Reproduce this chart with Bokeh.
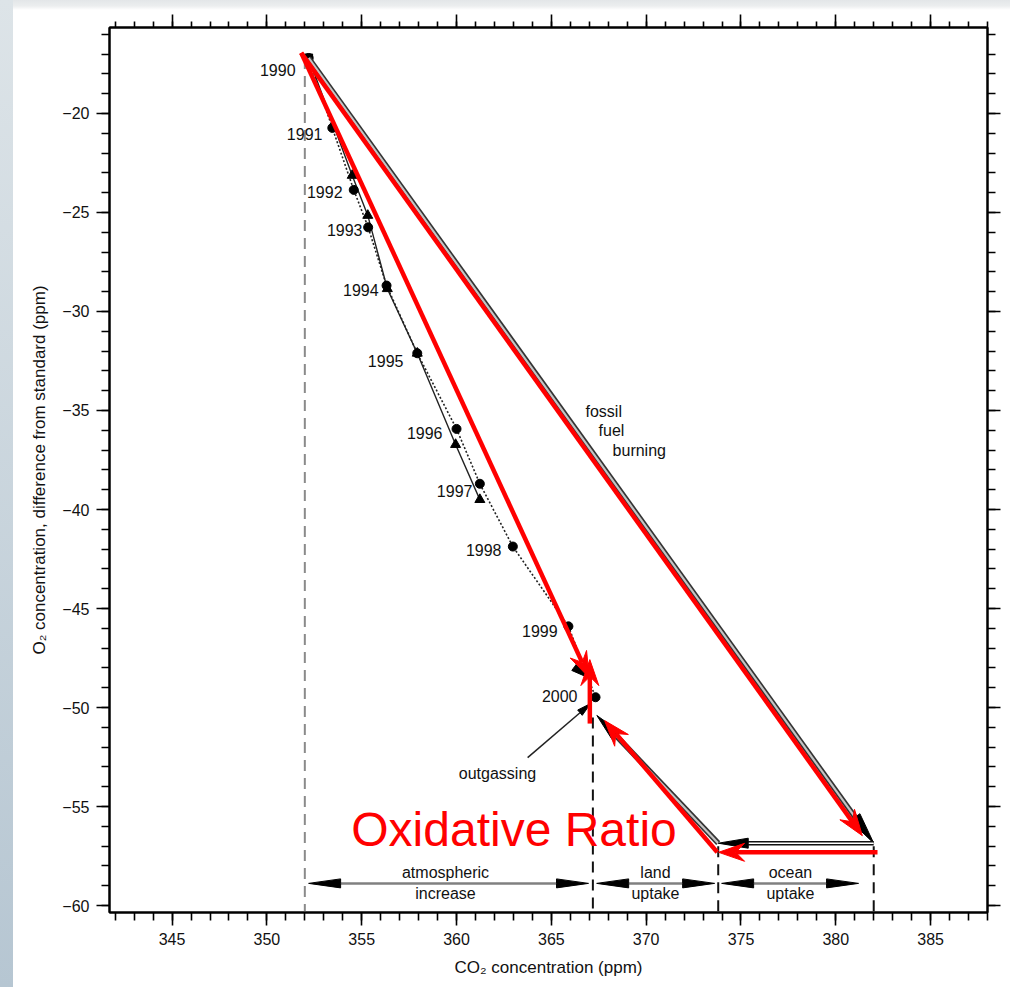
import math
from bokeh.plotting import figure
from bokeh.models import (LinearAxis, Range1d, SingleIntervalTicker,
                          CustomJSTickFormatter, ColumnDataSource)
from bokeh.embed import file_html
from bokeh.resources import INLINE
from bokeh.core.properties import value

FONT = "Liberation Sans"

# ---------------- data ----------------
x_range_ppm = [341.7, 388.0]
y_range_ppm = [-60.35, -15.66]

years = ["1990", "1991", "1992", "1993", "1994", "1995", "1996", "1997", "1998", "1999", "2000"]
obs_co2 = [352.2, 353.45, 354.58, 355.34, 356.31, 357.93, 360.0, 361.23, 362.97, 365.9, 367.33]
obs_o2 = [-17.2, -20.73, -23.86, -25.75, -28.69, -32.11, -35.93, -38.7, -41.87, -45.9, -49.48]
label_co2 = [351.51, 352.93, 353.99, 355.04, 355.89, 357.2, 359.26, 360.84, 362.37, 365.33, 366.38]
label_o2 = [-17.83, -21.06, -23.99, -25.91, -28.94, -32.48, -36.16, -39.09, -42.02, -46.11, -49.44]

tri_co2 = [352.2, 354.5, 355.32, 356.35, 357.93, 359.95, 361.23]
tri_o2 = [-17.2, -23.13, -25.15, -28.85, -32.11, -36.72, -39.5]

# budget boundaries (vertical dashed lines)
boundary_co2 = [352.0, 367.19, 373.8, 382.0]
boundary_top_o2 = [-17.2, -50.5, -57.0, -57.0]

# original-figure budget arrows: (x0, y0, x1, y1)
fossil_arrow = [352.2, -17.2, 382.0, -56.85]
ocean_arrow = [382.0, -56.85, 373.8, -56.85]
land_arrow = [373.8, -56.85, 367.4, -50.4]
atm_head = [366.27, -47.98, 367.07, -48.54]
outgas_arrow = [363.75, -52.53, 367.07, -49.8]

fossil_words = ["fossil", "fuel", "burning"]
fossil_words_x = [366.8, 367.49, 368.23]
fossil_words_y = [-35.05, -36.01, -37.02]
outgas_text = ["outgassing"]
outgas_text_x = [362.16]
outgas_text_y = [-53.33]

span_top = ["atmospheric", "land", "ocean"]
span_bottom = ["increase", "uptake", "uptake"]
span_text_x = [359.42, 370.49, 377.61]
span_top_y = -58.33
span_bottom_y = -59.37
span_start = [352.2, 367.39, 373.98]
span_end = [366.96, 373.61, 381.2]
span_y = -58.88

# red overlay arrows: (x0, y0, x1, y1)
red_arrows = [
    [351.81, -16.94, 367.0, -48.5],
    [351.81, -16.94, 381.4, -56.47],
    [382.2, -57.31, 373.82, -57.31],
    [373.75, -57.31, 367.81, -50.66],
    [367.03, -50.81, 367.03, -47.58],
]
red_title = ["Oxidative Ratio"]
red_title_x = [354.45]
red_title_y = [-56.17]

# ---------------- geometry helpers ----------------
FRAME_W, FRAME_H = 878, 885
SX = FRAME_W / (x_range_ppm[1] - x_range_ppm[0])
SY = FRAME_H / (y_range_ppm[1] - y_range_ppm[0])


def head(x0, y0, x1, y1, L, W, notch=0.0):
    dx = (x1 - x0) * SX
    dy = (y1 - y0) * SY
    n = math.hypot(dx, dy)
    ux, uy = dx / n, dy / n
    px_, py_ = -uy, ux

    def pt(a, b):
        return x1 + (-a * ux + b * px_) / SX, y1 + (-a * uy + b * py_) / SY

    l = pt(L, W / 2)
    r = pt(L, -W / 2)
    m = pt(L - notch, 0)
    return [x1, l[0], m[0], r[0]], [y1, l[1], m[1], r[1]], m


# ---------------- figure ----------------
p = figure(width=1010, height=987,
           x_range=Range1d(*x_range_ppm), y_range=Range1d(*y_range_ppm),
           output_backend="svg", toolbar_location=None,
           min_border_left=109, min_border_right=23,
           min_border_top=27, min_border_bottom=75)
p.grid.visible = False
p.background_fill_color = "white"
p.border_fill_alpha = 0
p.styles = {
    "background": "linear-gradient(to bottom, #dde4e8, #b6c6d2) left top / 13px 100% no-repeat, "
                  "linear-gradient(to bottom, #e3e6e8 0px, #eceeef 6px, #ffffff 10px) left top / 100% 12px no-repeat, "
                  "#ffffff"
}
p.outline_line_color = "black"
p.outline_line_width = 2

tick_x = SingleIntervalTicker(interval=5, num_minor_ticks=5)
tick_y = SingleIntervalTicker(interval=5, num_minor_ticks=5)
minus_fmt = CustomJSTickFormatter(code="return (tick < 0 ? '\u2212' : '') + Math.abs(tick);")
blank_fmt = CustomJSTickFormatter(code="return '';")


def style_axis(ax, labels=True):
    ax.axis_line_width = 2
    ax.axis_line_color = "black"
    ax.major_tick_out = 13
    ax.minor_tick_out = 8
    ax.major_tick_in = 0
    ax.minor_tick_in = 0
    ax.major_tick_line_width = 1.6
    ax.minor_tick_line_width = 1.6
    ax.major_tick_line_color = "black"
    ax.minor_tick_line_color = "black"
    if labels:
        ax.major_label_text_font = FONT
        ax.major_label_text_font_size = "16px"
        ax.major_label_text_color = "#111111"
        ax.major_label_standoff = 7
        ax.axis_label_text_font = FONT
        ax.axis_label_text_font_size = "17px"
        ax.axis_label_text_font_style = "normal"
        ax.axis_label_text_color = "#111111"
    else:
        ax.major_label_text_font_size = "0px"
        ax.major_label_standoff = 0
        ax.formatter = blank_fmt


xa = p.xaxis[0]
xa.ticker = tick_x
xa.formatter = minus_fmt
xa.axis_label = "CO\u2082 concentration (ppm)"
style_axis(xa)
xa.axis_label_standoff = 10

ya = p.yaxis[0]
ya.ticker = tick_y
ya.formatter = minus_fmt
ya.axis_label = "O\u2082 concentration, difference from standard (ppm)"
style_axis(ya)
ya.axis_label_standoff = 10

top_ax = LinearAxis(ticker=SingleIntervalTicker(interval=5, num_minor_ticks=5))
style_axis(top_ax, labels=False)
top_ax.minor_tick_out = 6
p.add_layout(top_ax, "above")
right_ax = LinearAxis(ticker=SingleIntervalTicker(interval=5, num_minor_ticks=5))
style_axis(right_ax, labels=False)
p.add_layout(right_ax, "right")

# dashed boundaries
p.segment(x0=boundary_co2[:1], y0=boundary_top_o2[:1], x1=boundary_co2[:1],
          y1=[y_range_ppm[0]], line_color="#8a8a8a", line_width=2, line_dash="11 7")
p.segment(x0=boundary_co2[1:], y0=boundary_top_o2[1:], x1=boundary_co2[1:],
          y1=[y_range_ppm[0]] * 3, line_color="#111111", line_width=2, line_dash="11 7")

# data series
p.line(tri_co2, tri_o2, line_color="#222222", line_width=1.4)
p.line(obs_co2, obs_o2, line_color="#222222", line_width=1.6, line_dash="2 2")
p.scatter(tri_co2[1:], tri_o2[1:], marker="triangle", size=10, color="black")
p.scatter(obs_co2, obs_o2, marker="circle", size=9, color="black")
p.scatter(obs_co2[:1], obs_o2[:1], marker="square", size=8, color="black")

p.text(x=label_co2, y=label_o2, text=years, text_font=value(FONT), text_font_size="16px",
       text_align="right", text_baseline="middle", text_color="#111111")


def double_line(a, outer, inner, w_out, w_in, L, W):
    hx, hy, m = head(*a, L=L, W=W)
    p.segment(x0=[a[0]], y0=[a[1]], x1=[m[0]], y1=[m[1]], line_color=outer, line_width=w_out)
    p.segment(x0=[a[0]], y0=[a[1]], x1=[m[0]], y1=[m[1]], line_color=inner, line_width=w_in)
    p.patch(hx, hy, fill_color="black", line_color="black", line_width=1)


double_line(fossil_arrow, "#333333", "#c4c4c4", 5.5, 2.2, 32, 12)
double_line(land_arrow, "#333333", "#c4c4c4", 5.5, 2.2, 28, 11)
double_line(ocean_arrow, "#111111", "white", 4.5, 1.6, 30, 10)
hx, hy, _ = head(*atm_head, L=20, W=9)
p.patch(hx, hy, fill_color="black", line_color="black")

# outgassing arrow
hx, hy, m = head(*outgas_arrow, L=14, W=7)
p.segment(x0=[outgas_arrow[0]], y0=[outgas_arrow[1]], x1=[m[0]], y1=[m[1]],
          line_color="#222222", line_width=1.5)
p.patch(hx, hy, fill_color="black", line_color="black")

p.text(x=fossil_words_x, y=fossil_words_y, text=fossil_words, text_font=value(FONT),
       text_font_size="16px", text_align="left", text_baseline="middle", text_color="#111111")
p.text(x=outgas_text_x, y=outgas_text_y, text=outgas_text, text_font=value(FONT),
       text_font_size="16px", text_align="center", text_baseline="middle", text_color="#111111")

# budget span arrows
for xs, xe in zip(span_start, span_end):
    lx, ly, lm = head(xe, span_y, xs, span_y, L=32, W=9)
    rx, ry, rm = head(xs, span_y, xe, span_y, L=32, W=9)
    p.segment(x0=[lm[0]], y0=[span_y], x1=[rm[0]], y1=[span_y], line_color="#808080", line_width=2.5)
    p.patches([lx, rx], [ly, ry], fill_color="black", line_color="black")

p.text(x=span_text_x, y=[span_top_y] * 3, text=span_top, text_font=value(FONT),
       text_font_size="16px", text_align="center", text_baseline="middle", text_color="#111111")
p.text(x=span_text_x, y=[span_bottom_y] * 3, text=span_bottom, text_font=value(FONT),
       text_font_size="16px", text_align="center", text_baseline="middle", text_color="#111111")

# red overlay
RED = "#ff0000"
for a in red_arrows:
    hx, hy, m = head(*a, L=26, W=18, notch=9)
    p.segment(x0=[a[0]], y0=[a[1]], x1=[m[0]], y1=[m[1]], line_color=RED, line_width=4.5)
    p.patch(hx, hy, fill_color=RED, line_color=RED, line_width=1)

p.text(x=red_title_x, y=red_title_y, text=red_title, text_font=value(FONT),
       text_font_size="48px", text_align="left", text_baseline="alphabetic", text_color=RED)

open("out.html", "w").write(file_html(p, INLINE))
